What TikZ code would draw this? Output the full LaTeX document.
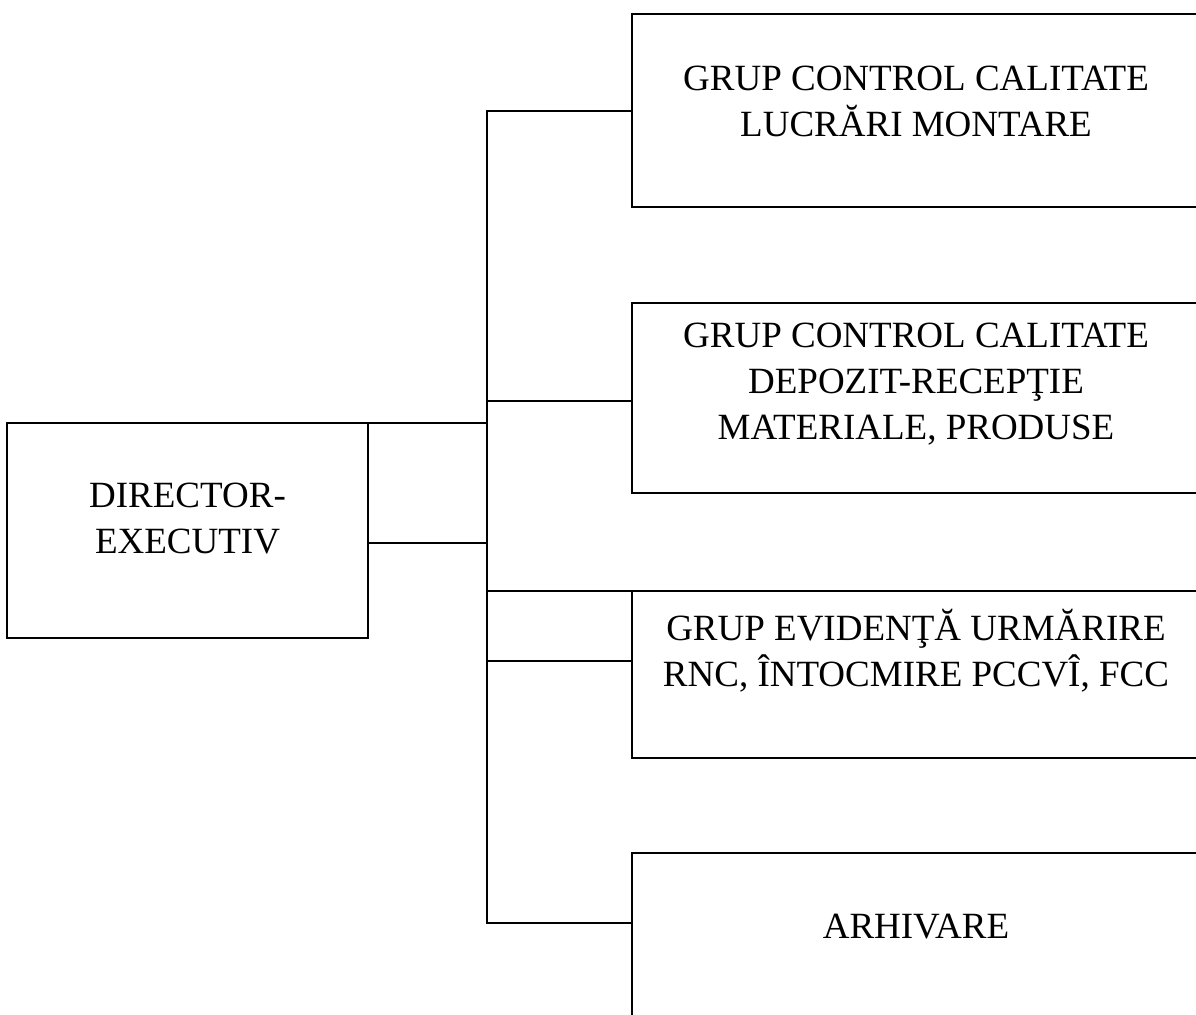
\documentclass[tikz,border=0pt]{standalone}
\usepackage{fontspec}
\setmainfont{Liberation Serif}
\begin{document}
\begin{tikzpicture}[x=0.5pt,y=-0.5pt,
  box/.style={draw,line width=1.2pt,inner sep=0pt,outer sep=0pt},
  lbl/.style={align=center,inner sep=0pt,font=\fontsize{18.5}{23}\selectfont},
  conn/.style={line width=1.2pt,line cap=rect}]
\clip (0,0) rectangle (1196,1015);
\fill[white] (0,0) rectangle (1196,1015);
% boxes
\node[box,minimum width=180.5pt,minimum height=107.5pt] (dir) at (187.5,530.5) {};
\node[box,minimum width=284pt,minimum height=96.5pt] (b1) at (916,110.5) {};
\node[box,minimum width=284pt,minimum height=95pt] (b2) at (916,398) {};
\node[box,minimum width=284pt,minimum height=83.5pt] (b3) at (916,674.5) {};
\node[box,minimum width=284pt,minimum height=123.5pt] (b4) at (916,976.5) {};
% texts
\node[lbl] (tdir) at (187.5,519) {DIRECTOR-\\EXECUTIV};
\node[lbl] (t1) at (916,101) {GRUP CONTROL CALITATE\\LUCRĂRI MONTARE};
\node[lbl] (t2) at (916,384) {GRUP CONTROL CALITATE\\DEPOZIT-RECEPŢIE\\MATERIALE, PRODUSE};
\node[lbl] (t3) at (916,651) {GRUP EVIDENŢĂ URMĂRIRE\\RNC, ÎNTOCMIRE PCCVÎ, FCC};
\node[lbl] (t4) at (916,927) {ARHIVARE};
% trunk coordinates
\coordinate (top) at (487,111);
\coordinate (j2) at (487,401);
\coordinate (jd) at (487,543);
\coordinate (j3) at (487,661);
\coordinate (bot) at (487,923);
% connectors
\draw[conn] (top) -- (bot);
\draw[conn] (dir.north east) -- (dir.north east -| top);
\draw[conn] (jd -| dir.east) -- (jd);
\draw[conn] (top) -- (top -| b1.west);
\draw[conn] (j2) -- (j2 -| b2.west);
\draw[conn] (b3.north west -| top) -- (b3.north west);
\draw[conn] (j3) -- (j3 -| b3.west);
\draw[conn] (bot) -- (bot -| b4.west);
\end{tikzpicture}
\end{document}
